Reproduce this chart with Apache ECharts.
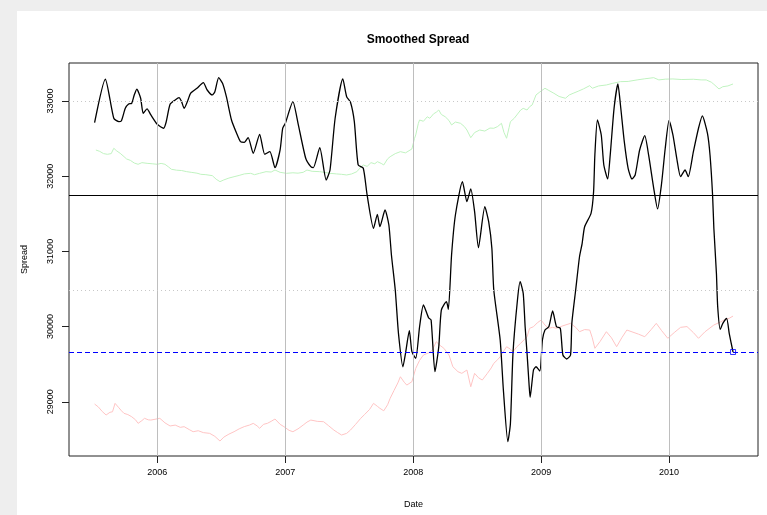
<!DOCTYPE html>
<html>
<head>
<meta charset="utf-8">
<script src="https://cdn.jsdelivr.net/npm/echarts@6/dist/echarts.min.js"></script>
<style>
html,body{margin:0;padding:0;width:767px;height:515px;background:#eeeeee;overflow:hidden;}
#paper{position:absolute;left:17px;top:11px;right:0;bottom:0;background:#ffffff;}
#chart{position:absolute;left:0;top:0;width:767px;height:515px;}
</style>
</head>
<body>
<div id="paper"></div>
<div id="chart"></div>
<script>
// ---- data (x = decimal year, y = spread) ----
const xTicks = [2006, 2007, 2008, 2009, 2010];
const yTicks = [29000, 30000, 31000, 32000, 33000];

const smoothed = [
[2005.51,32711],[2005.594,33289],[2005.66,32770],[2005.70,32725],[2005.72,32738],[2005.75,32902],
[2005.776,32960],[2005.80,32969],[2005.82,33080],[2005.84,33156],[2005.87,33036],[2005.89,32836],
[2005.92,32894],[2005.95,32814],[2006.00,32690],[2006.05,32637],[2006.07,32725],[2006.10,32956],
[2006.14,33013],[2006.17,33044],[2006.19,32991],[2006.21,32902],[2006.24,33013],[2006.26,33102],
[2006.31,33169],[2006.36,33244],[2006.39,33146],[2006.43,33080],[2006.45,33124],[2006.48,33310],
[2006.51,33235],[2006.54,33057],[2006.58,32747],[2006.62,32570],[2006.65,32459],[2006.68,32450],
[2006.71,32512],[2006.75,32304],[2006.80,32557],[2006.84,32291],[2006.88,32326],[2006.92,32113],
[2006.96,32350],[2006.98,32637],[2007.00,32700],[2007.06,32991],[2007.10,32703],[2007.16,32238],
[2007.20,32126],[2007.22,32113],[2007.27,32379],[2007.32,31949],[2007.35,32082],[2007.39,32770],
[2007.45,33293],[2007.48,33057],[2007.51,32983],[2007.54,32725],[2007.57,32149],[2007.61,32105],
[2007.64,31750],[2007.69,31307],[2007.72,31493],[2007.74,31328],[2007.78,31550],[2007.81,31351],
[2007.83,30952],[2007.86,30486],[2007.885,29910],[2007.92,29466],[2007.94,29644],[2007.97,29945],
[2007.99,29666],[2008.02,29578],[2008.05,29998],[2008.08,30287],[2008.12,30118],[2008.14,30087],
[2008.17,29400],[2008.20,29732],[2008.22,30220],[2008.26,30331],[2008.275,30230],[2008.30,30952],
[2008.33,31484],[2008.385,31927],[2008.42,31661],[2008.45,31830],[2008.48,31528],[2008.51,31049],
[2008.56,31594],[2008.59,31395],[2008.615,31041],[2008.63,30486],[2008.68,29821],[2008.705,29156],
[2008.74,28469],[2008.76,28713],[2008.78,29644],[2008.815,30353],[2008.836,30597],[2008.86,30442],
[2008.875,29998],[2008.89,29644],[2008.905,29250],[2008.914,29059],[2008.94,29422],[2008.96,29466],
[2008.99,29409],[2009.01,29821],[2009.03,29954],[2009.06,29998],[2009.09,30207],[2009.12,29998],
[2009.15,29977],[2009.17,29622],[2009.20,29569],[2009.23,29622],[2009.24,30043],[2009.27,30486],
[2009.30,30929],[2009.32,31100],[2009.34,31328],[2009.39,31506],[2009.41,31794],[2009.42,32282],
[2009.44,32747],[2009.47,32548],[2009.49,32149],[2009.52,31963],[2009.54,32282],[2009.57,32902],
[2009.60,33226],[2009.62,32947],[2009.65,32459],[2009.68,32105],[2009.71,31963],[2009.735,32016],
[2009.77,32348],[2009.81,32538],[2009.84,32282],[2009.88,31839],[2009.91,31564],[2009.94,31883],
[2009.97,32371],[2010.00,32743],[2010.03,32548],[2010.06,32238],[2010.09,31993],[2010.125,32082],
[2010.15,31993],[2010.19,32326],[2010.23,32637],[2010.26,32801],[2010.30,32570],[2010.32,32282],
[2010.34,31750],[2010.35,31307],[2010.37,30708],[2010.38,30264],[2010.40,29963],[2010.42,30043],
[2010.45,30110],[2010.47,29910],[2010.50,29662]
];

const upper = [
[2005.52,32348],[2005.55,32330],[2005.58,32300],[2005.61,32291],[2005.64,32300],[2005.66,32371],
[2005.68,32340],[2005.71,32304],[2005.74,32260],[2005.76,32229],[2005.79,32210],[2005.82,32175],
[2005.85,32158],[2005.88,32180],[2005.92,32171],[2005.96,32165],[2006.00,32158],[2006.03,32170],
[2006.06,32158],[2006.09,32120],[2006.11,32092],[2006.15,32080],[2006.19,32075],[2006.23,32060],
[2006.27,32050],[2006.31,32040],[2006.34,32025],[2006.38,32020],[2006.43,32007],[2006.46,31960],
[2006.49,31927],[2006.52,31950],[2006.56,31975],[2006.60,31993],[2006.64,32010],[2006.68,32030],
[2006.73,32038],[2006.76,32020],[2006.80,32038],[2006.85,32060],[2006.89,32055],[2006.92,32082],
[2006.96,32051],[2007.01,32038],[2007.06,32045],[2007.10,32040],[2007.14,32051],[2007.17,32082],
[2007.21,32065],[2007.27,32060],[2007.31,32050],[2007.35,32038],[2007.40,32030],[2007.44,32025],
[2007.48,32016],[2007.52,32030],[2007.56,32060],[2007.59,32120],[2007.61,32149],[2007.64,32130],
[2007.67,32180],[2007.70,32165],[2007.72,32193],[2007.75,32170],[2007.77,32149],[2007.80,32230],
[2007.82,32259],[2007.86,32300],[2007.90,32326],[2007.94,32310],[2007.99,32362],[2008.01,32500],
[2008.02,32548],[2008.04,32700],[2008.05,32747],[2008.08,32730],[2008.11,32790],[2008.13,32770],
[2008.16,32830],[2008.18,32850],[2008.20,32880],[2008.22,32820],[2008.25,32791],[2008.28,32740],
[2008.30,32681],[2008.33,32720],[2008.37,32703],[2008.40,32660],[2008.42,32614],[2008.45,32512],
[2008.48,32580],[2008.52,32614],[2008.56,32600],[2008.60,32640],[2008.63,32637],[2008.66,32660],
[2008.69,32703],[2008.71,32580],[2008.73,32504],[2008.75,32650],[2008.76,32725],[2008.79,32770],
[2008.81,32814],[2008.84,32880],[2008.86,32902],[2008.89,32880],[2008.91,32924],[2008.93,32947],
[2008.96,33080],[2008.99,33120],[2009.03,33169],[2009.06,33140],[2009.10,33102],[2009.14,33060],
[2009.19,33036],[2009.22,33080],[2009.25,33102],[2009.29,33130],[2009.33,33160],[2009.38,33204],
[2009.40,33169],[2009.45,33200],[2009.51,33213],[2009.56,33235],[2009.62,33257],[2009.68,33260],
[2009.75,33280],[2009.81,33295],[2009.88,33310],[2009.92,33280],[2009.97,33290],[2010.03,33293],
[2010.10,33285],[2010.19,33289],[2010.25,33280],[2010.29,33280],[2010.33,33250],[2010.35,33222],
[2010.39,33160],[2010.42,33190],[2010.46,33200],[2010.50,33226]
];

const lower = [
[2005.51,28970],[2005.54,28930],[2005.57,28870],[2005.60,28824],[2005.63,28860],[2005.65,28867],
[2005.67,28979],[2005.70,28920],[2005.72,28880],[2005.74,28846],[2005.77,28830],[2005.80,28801],
[2005.83,28760],[2005.85,28713],[2005.88,28750],[2005.90,28780],[2005.93,28760],[2005.95,28757],
[2005.99,28770],[2006.02,28780],[2006.06,28720],[2006.10,28678],[2006.14,28690],[2006.18,28660],
[2006.21,28669],[2006.25,28630],[2006.28,28602],[2006.32,28615],[2006.36,28590],[2006.41,28580],
[2006.45,28540],[2006.49,28478],[2006.52,28530],[2006.56,28570],[2006.60,28602],[2006.64,28640],
[2006.68,28670],[2006.72,28690],[2006.75,28713],[2006.78,28680],[2006.80,28647],[2006.83,28700],
[2006.86,28713],[2006.89,28740],[2006.92,28771],[2006.96,28700],[2006.99,28669],[2007.03,28620],
[2007.06,28602],[2007.10,28640],[2007.14,28690],[2007.17,28730],[2007.20,28757],[2007.25,28740],
[2007.30,28735],[2007.34,28680],[2007.38,28624],[2007.41,28590],[2007.44,28558],[2007.48,28580],
[2007.51,28624],[2007.55,28700],[2007.59,28780],[2007.62,28830],[2007.66,28900],[2007.69,28979],
[2007.72,28940],[2007.74,28913],[2007.77,28880],[2007.80,28960],[2007.82,29046],[2007.85,29150],
[2007.88,29250],[2007.90,29333],[2007.93,29260],[2007.95,29222],[2007.99,29267],[2008.02,29444],
[2008.05,29550],[2008.08,29622],[2008.12,29650],[2008.15,29688],[2008.18,29799],[2008.21,29750],
[2008.24,29711],[2008.28,29622],[2008.31,29466],[2008.35,29400],[2008.38,29378],[2008.42,29422],
[2008.45,29200],[2008.48,29378],[2008.51,29320],[2008.54,29289],[2008.58,29378],[2008.61,29450],
[2008.63,29511],[2008.66,29560],[2008.68,29599],[2008.71,29680],[2008.73,29732],[2008.76,29700],
[2008.78,29666],[2008.81,29730],[2008.84,29778],[2008.87,29830],[2008.89,29865],[2008.91,29977],
[2008.94,29998],[2008.97,30050],[2009.00,30087],[2009.03,30020],[2009.06,29977],[2009.09,29990],
[2009.12,29977],[2009.17,30010],[2009.23,30043],[2009.27,29990],[2009.30,29932],[2009.34,29960],
[2009.38,29954],[2009.40,29850],[2009.42,29711],[2009.46,29800],[2009.51,29932],[2009.55,29850],
[2009.59,29732],[2009.63,29850],[2009.67,29954],[2009.71,29930],[2009.76,29900],[2009.81,29865],
[2009.86,29960],[2009.90,30043],[2009.94,29950],[2009.99,29844],[2010.04,29920],[2010.09,29990],
[2010.14,30000],[2010.19,29920],[2010.23,29844],[2010.28,29930],[2010.35,30021],[2010.40,30060],
[2010.43,30087],[2010.47,30110],[2010.50,30140]
];

const meanLevel = [31741];
const sdLevels = [33001, 30481];
const lastPoint = [smoothed[smoothed.length - 1]];
const lastLevel = [lastPoint[0][1]];

const FONT = 'Liberation Sans';
const chart = echarts.init(document.getElementById('chart'), null, {renderer: 'canvas'});

chart.setOption({
  animation: false,
  backgroundColor: 'transparent',
  title: {
    text: 'Smoothed Spread',
    left: 413, top: 29, textAlign: 'center',
    textStyle: {fontFamily: FONT, fontSize: 12, fontWeight: 'bold', color: '#000'}
  },
  grid: {left: 69, right: 9, top: 63, bottom: 59, show: true, borderColor: '#222', borderWidth: 1, backgroundColor: 'transparent'},
  xAxis: {
    type: 'value', min: 2005.31, max: 2010.695,
    name: 'Date', nameLocation: 'middle', nameGap: 44,
    nameTextStyle: {fontFamily: FONT, fontSize: 9, color: '#000'},
    axisLine: {show: false},
    splitLine: {show: false},
    axisTick: {show: true, customValues: xTicks, length: 7, lineStyle: {color: '#222'}},
    axisLabel: {customValues: xTicks, fontFamily: FONT, fontSize: 9, color: '#000', margin: 12, formatter: v => String(v)}
  },
  yAxis: {
    type: 'value', min: 28279, max: 33505,
    name: 'Spread', nameLocation: 'middle', nameGap: 40, nameRotate: 90,
    nameTextStyle: {fontFamily: FONT, fontSize: 9, color: '#000'},
    axisLine: {show: false},
    splitLine: {show: false},
    axisTick: {show: true, customValues: yTicks, length: 7, lineStyle: {color: '#222'}},
    axisLabel: {customValues: yTicks, rotate: 90, fontFamily: FONT, fontSize: 9, color: '#000', margin: 14, formatter: v => String(v)}
  },
  series: [
    {
      type: 'line', data: [], z: 1, silent: true,
      markLine: {
        silent: true, symbol: 'none', animation: false, label: {show: false},
        data: xTicks.map(v => ({xAxis: v, lineStyle: {color: '#bebebe', width: 1, type: 'solid'}}))
          .concat(sdLevels.map(v => ({yAxis: v, lineStyle: {color: '#c8c8c8', width: 1, type: [1, 3]}})))
      }
    },
    {
      type: 'line', data: upper, showSymbol: false, z: 2,
      lineStyle: {color: '#c0f3c0', width: 1}
    },
    {
      type: 'line', data: lower, showSymbol: false, z: 2,
      lineStyle: {color: '#ffc4c4', width: 1}
    },
    {
      type: 'line', data: [], z: 3, silent: true,
      markLine: {
        silent: true, symbol: 'none', animation: false, label: {show: false},
        data: meanLevel.map(v => ({yAxis: v, lineStyle: {color: '#000', width: 1.2, type: 'solid'}}))
          .concat(lastLevel.map(v => ({yAxis: v, lineStyle: {color: '#0000ff', width: 1, type: [5, 3]}})))
      }
    },
    {
      type: 'line', data: smoothed, showSymbol: false, z: 4, smooth: 0.2,
      lineStyle: {color: '#000', width: 1.3}
    },
    {
      type: 'scatter', data: lastPoint, symbol: 'rect', symbolSize: 5, z: 5,
      itemStyle: {color: 'rgba(0,0,0,0)', borderColor: '#0000ff', borderWidth: 1}
    }
  ]
});
</script>
</body>
</html>
